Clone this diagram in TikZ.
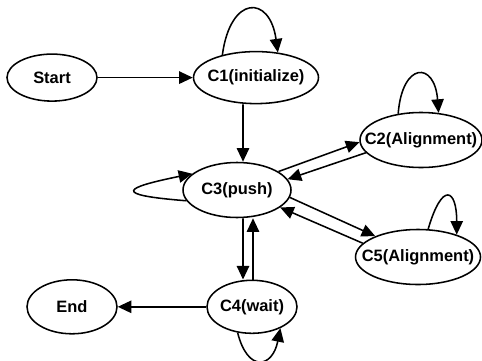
\documentclass[tikz,border=0pt]{standalone}
\usepackage{fontspec}
\setmainfont{Liberation Sans}
\usetikzlibrary{shapes.geometric,arrows.meta}

\begin{document}
\begin{tikzpicture}[>={Triangle[length=3.4mm,width=3.1mm]},line width=1.1pt,
  state/.style={draw,ellipse,inner xsep=-1.6cm,inner ysep=0pt,
    font=\fontsize{11.7}{14}\selectfont\bfseries}]
\useasboundingbox (0,0) rectangle (12.05,9);
% states
\node[state,minimum width=2.25cm,minimum height=1.175cm] (start) at (1.3,7.06) {Start};
\node[state,minimum width=3.125cm,minimum height=1.3cm] (C1) at (6.4,7.06) {C1(initialize)};
\node[state,minimum width=3.05cm,minimum height=1.375cm] (C2) at (10.525,5.5) {C2(Alignment)};
\node[state,minimum width=2.7cm,minimum height=1.375cm] (C3) at (5.925,4.25) {C3(push)};
\node[state,minimum width=3.125cm,minimum height=1.375cm] (C5) at (10.45,2.575) {C5(Alignment)};
\node[state,minimum width=2.25cm,minimum height=1.325cm] (C4) at (6.3,1.33) {C4(wait)};
\node[state,minimum width=2.25cm,minimum height=1.35cm] (end) at (1.8,1.33) {End};
% transitions
\draw[->] (start.east) -- (C1.west);
\draw[->] ([xshift=-3.25mm]C1.south) -- ([xshift=1.5mm]C3.north);
\draw[->] (C3.24) -- (C2.182);
\draw[->] (C2.193) -- (C3.12);
\draw[->] (C3.352) -- (C5.154);
\draw[->] (C5.166) -- (C3.338);
\draw[->] ([xshift=1.5mm]C3.south) -- ([xshift=-2.25mm]C4.north);
\draw[->] ([xshift=0.25mm]C4.north) -- ([xshift=4mm]C3.south);
\draw[->] (C4.west) -- (end.east);
% self loops
\draw[->] (C1.146) .. controls +(0.2,1.5) and +(-0.2,1.45) .. (C1.49);
\draw[->] (C2.131) .. controls +(0.1,1.3) and +(-0.1,1.3) .. (C2.57);
\draw[->] (C3.192) .. controls +(-1.9,0.15) and +(-1.7,-0.35) .. (C3.160);
\draw[->] (C5.70) .. controls +(0.35,1.2) and +(0,1.15) .. (C5.30);
\draw[->] (C4.241) .. controls +(0.25,-1) and +(-0.2,-1) .. (C4.323);
\end{tikzpicture}
\end{document}
